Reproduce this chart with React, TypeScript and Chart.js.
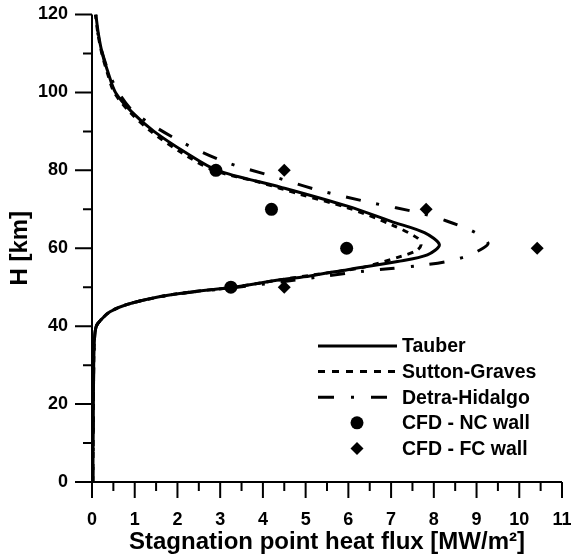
import { useEffect, useRef } from 'react';
import { Chart, registerables } from 'chart.js';
Chart.register(...registerables);

const FONT = '"Liberation Sans", Arial, Helvetica, sans-serif';

// Tauber correlation (q in MW/m², H in km)
const tauberQ = [0.02, 0.03, 0.04, 0.06, 0.1, 0.2, 0.42, 0.8, 1.6, 2.4, 3.24, 4.41, 5.1, 5.98, 7.15, 7.85, 8.13, 7.78, 7.0, 5.98, 4.41, 2.93, 2.2, 1.45, 0.93, 0.55, 0.38, 0.24, 0.15, 0.09];
const tauberH = [0, 15, 30, 37, 40, 41.5, 43.7, 45.5, 47.6, 48.9, 49.9, 51.9, 52.9, 54.5, 56.6, 58.3, 60.9, 64, 66.9, 70.8, 75.7, 80, 84.5, 90, 95, 100, 105, 110, 115, 120];

// Sutton-Graves correlation
const suttonQ = [0.02, 0.03, 0.04, 0.06, 0.1, 0.2, 0.42, 0.8, 1.6, 2.4, 3.24, 4.41, 5.2, 6.3, 7.23, 7.58, 7.7, 7.62, 7.0, 5.98, 4.88, 3.9, 2.85, 2.1, 1.38, 0.88, 0.52, 0.36, 0.23, 0.14, 0.08];
const suttonH = [0, 15, 30, 37, 40, 41.5, 43.7, 45.5, 47.6, 48.9, 49.9, 51.9, 53.2, 55.0, 57.9, 59.3, 60.8, 62.6, 66.1, 70.4, 73.8, 77, 80, 84.5, 90, 95, 100, 105, 110, 115, 120];

// Detra-Hidalgo correlation
const detraQ = [0.02, 0.03, 0.04, 0.06, 0.1, 0.2, 0.42, 0.8, 1.6, 2.4, 3.24, 4.4, 5.5, 6.37, 7.0, 7.62, 8.3, 8.8, 9.15, 9.27, 9.15, 8.83, 8.3, 7.7, 6.53, 5.27, 4.22, 3.08, 1.99, 1.0, 0.62, 0.38, 0.22, 0.14, 0.09];
const detraH = [0, 15, 30, 37, 40, 41.5, 43.7, 45.5, 47.6, 48.8, 49.8, 51.3, 52.9, 54.1, 54.8, 55.5, 56.6, 58.1, 60, 61.2, 62.8, 64.8, 67, 69, 71.7, 75, 78.5, 82.3, 87.9, 94.8, 100, 105.5, 111, 115, 120];

// CFD results
const ncQ = [2.9, 4.2, 5.96, 3.25];
const ncH = [80, 70, 60, 50];
const fcQ = [4.5, 7.82, 10.42, 4.5];
const fcH = [80, 70, 60, 50];

const seriesLabels = ['Tauber', 'Sutton-Graves', 'Detra-Hidalgo', 'CFD - NC wall', 'CFD - FC wall'];
const xTitle = 'Stagnation point heat flux [MW/m²]';
const yTitle = 'H [km]';
const xMin = 0, xMax = 11, xStep = 1;
const yMin = 0, yMax = 120, yStep = 20;

const toPts = (q: number[], h: number[]) => q.map((v, i) => ({ x: v, y: h[i] }));

const axesPlugin = {
  id: 'customAxes',
  afterDraw(chart: any) {
    const { ctx, chartArea, scales } = chart;
    const { left, right, top, bottom } = chartArea;
    const xs = scales.x, ys = scales.y;
    ctx.save();
    ctx.strokeStyle = '#000';
    ctx.lineWidth = 2;
    ctx.beginPath();
    ctx.moveTo(left, top);
    ctx.lineTo(left, bottom);
    ctx.lineTo(right, bottom);
    ctx.stroke();
    ctx.beginPath();
    for (let v = xMin; v <= xMax + 1e-9; v += xStep / 2) {
      const p = xs.getPixelForValue(v);
      const major = Math.abs(v - Math.round(v / xStep) * xStep) < 1e-6;
      ctx.moveTo(p, bottom);
      ctx.lineTo(p, bottom + (major ? 16 : 9));
    }
    for (let v = yMin; v <= yMax + 1e-9; v += yStep / 2) {
      const p = ys.getPixelForValue(v);
      const major = Math.abs(v - Math.round(v / yStep) * yStep) < 1e-6;
      ctx.moveTo(left, p);
      ctx.lineTo(left - (major ? 17 : 9), p);
    }
    ctx.stroke();
    ctx.restore();
  },
};

const legendPlugin = {
  id: 'customLegend',
  afterDraw(chart: any) {
    const { ctx } = chart;
    const ds = chart.data.datasets;
    const x0 = 318, x1 = 397, tx = 402, y0 = 346, dy = 25.6;
    ctx.save();
    ctx.font = `bold 19.5px ${FONT}`;
    ctx.fillStyle = '#000';
    ctx.textBaseline = 'middle';
    ds.forEach((d: any, i: number) => {
      const y = y0 + i * dy;
      if (d.showLine) {
        ctx.strokeStyle = '#000';
        ctx.lineWidth = 3;
        ctx.setLineDash(d.legendDash || d.borderDash || []);
        ctx.beginPath();
        ctx.moveTo(x0, y);
        ctx.lineTo(x1, y);
        ctx.stroke();
        ctx.setLineDash([]);
      } else {
        const cx = (x0 + x1) / 2 - 0.5;
        const r = d.pointRadius;
        ctx.beginPath();
        if (d.pointStyle === 'rectRot') {
          ctx.moveTo(cx, y - r);
          ctx.lineTo(cx + r, y);
          ctx.lineTo(cx, y + r);
          ctx.lineTo(cx - r, y);
          ctx.closePath();
        } else {
          ctx.arc(cx, y, r, 0, Math.PI * 2);
        }
        ctx.fill();
      }
      ctx.fillText(d.label, tx, y + 1);
    });
    ctx.restore();
  },
};

export default function App() {
  const ref = useRef<HTMLCanvasElement>(null);
  useEffect(() => {
    document.body.style.margin = '0';
    const canvas = ref.current!;
    const lineBase = { showLine: true, pointRadius: 0, borderColor: '#000', backgroundColor: '#000', borderWidth: 3, tension: 0.3, fill: false };
    const chart = new Chart(canvas, {
      type: 'scatter',
      data: {
        datasets: [
          { ...lineBase, label: seriesLabels[0], data: toPts(tauberQ, tauberH) },
          { ...lineBase, label: seriesLabels[1], data: toPts(suttonQ, suttonH), borderDash: [6, 6], legendDash: [7, 7] } as any,
          { ...lineBase, label: seriesLabels[2], data: toPts(detraQ, detraH), borderDash: [15, 16, 3, 16], legendDash: [16, 17, 3, 17] } as any,
          { label: seriesLabels[3], data: toPts(ncQ, ncH), showLine: false, pointStyle: 'circle', pointRadius: 6.5, backgroundColor: '#000', borderColor: '#000', borderWidth: 0 },
          { label: seriesLabels[4], data: toPts(fcQ, fcH), showLine: false, pointStyle: 'rectRot', pointRadius: 6.5, backgroundColor: '#000', borderColor: '#000', borderWidth: 0 },
        ],
      },
      options: {
        animation: false,
        responsive: false,
        maintainAspectRatio: false,
        layout: { padding: { left: 0, right: 9, top: 14.5, bottom: 0 } },
        plugins: { legend: { display: false }, tooltip: { enabled: false } },
        scales: {
          x: {
            type: 'linear', min: xMin, max: xMax,
            afterFit: (s: any) => { s.height = 75; s.paddingLeft = 0; s.paddingRight = 0; },
            grid: { display: false, drawTicks: false },
            border: { display: false },
            ticks: { stepSize: xStep, padding: 27, color: '#000', font: { family: FONT, size: 18, weight: 'bold' } },
            title: { display: true, text: xTitle, color: '#000', font: { family: FONT, size: 24, weight: 'bold' }, padding: { top: 0, bottom: 0 } },
          },
          y: {
            type: 'linear', min: yMin, max: yMax,
            afterFit: (s: any) => { s.width = 92; s.paddingTop = 0; s.paddingBottom = 0; },
            grid: { display: false, drawTicks: false },
            border: { display: false },
            ticks: { stepSize: yStep, padding: 24, color: '#000', font: { family: FONT, size: 18, weight: 'bold' } },
            title: { display: true, text: yTitle, color: '#000', font: { family: FONT, size: 24, weight: 'bold' }, padding: { top: 6, bottom: 0 } },
          },
        },
      } as any,
      plugins: [axesPlugin, legendPlugin],
    });
    return () => chart.destroy();
  }, []);
  return <canvas ref={ref} width={571} height={557} style={{ display: 'block' }} />;
}
